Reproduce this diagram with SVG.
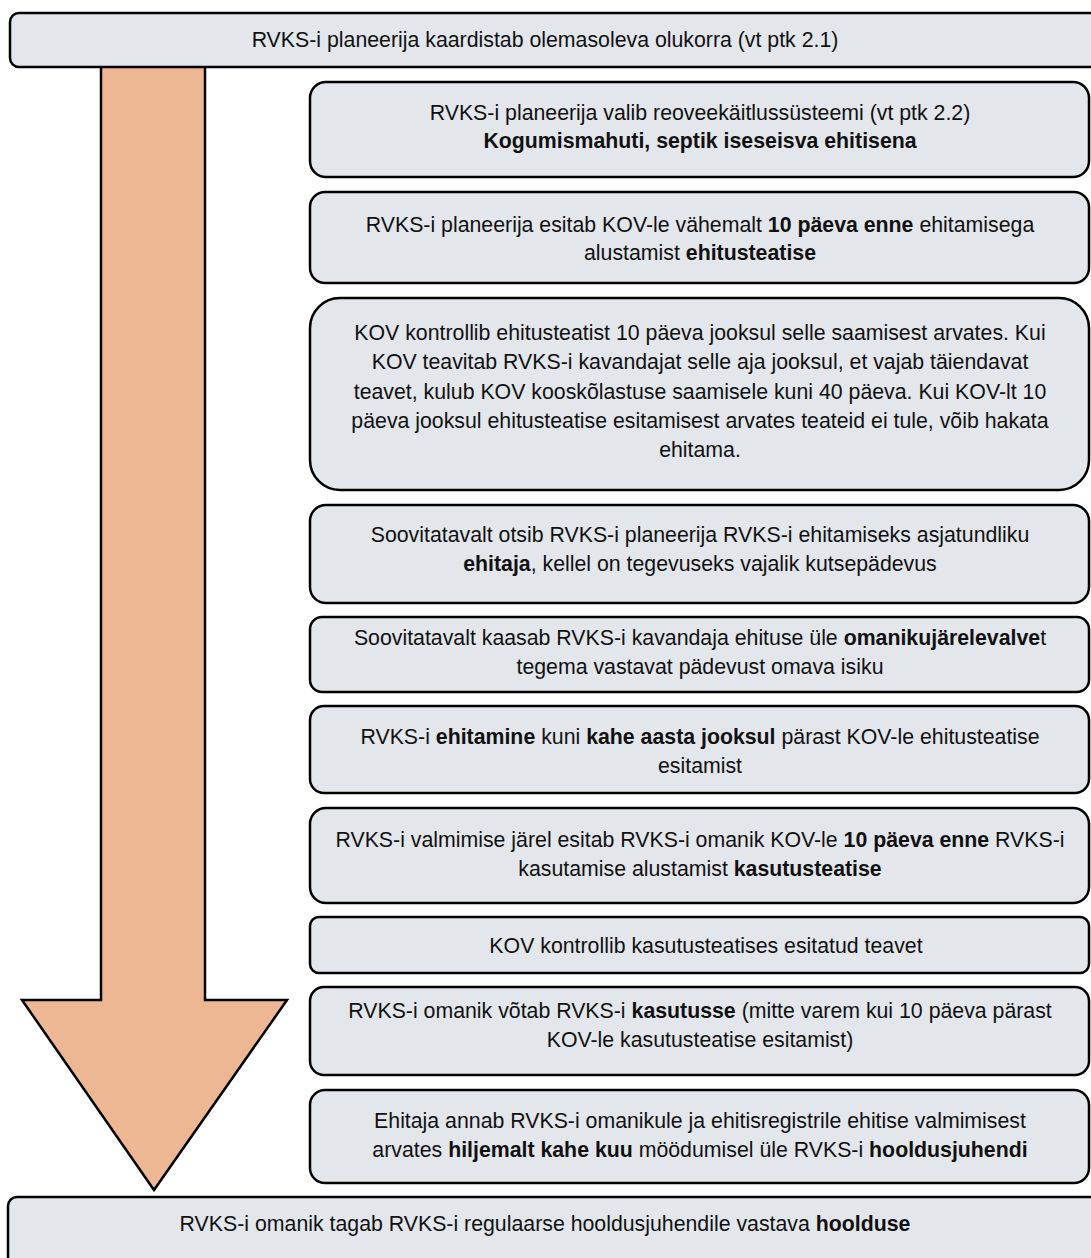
<svg xmlns="http://www.w3.org/2000/svg" width="1091" height="1258" viewBox="0 0 1091 1258">
<style>
.box{fill:#e3e6eb;stroke:#000;stroke-width:2.5}
.t{font-family:"Liberation Sans",Arial,sans-serif;font-size:21.3px;fill:#111;text-anchor:middle}
.b{font-weight:bold}
</style>
<rect width="1091" height="1258" fill="#fff"/>
<g id="connectors">
<polygon points="101,60 205,60 205,1000 287,1000 154,1190 22,1000 101,1000" fill="#edb793" stroke="#000" stroke-width="2.5" stroke-linejoin="miter"/>
</g>
<g id="n0"><rect class="box" x="10" y="13" width="1100" height="54" rx="9"/>
<text class="t" x="545" y="47">RVKS-i planeerija kaardistab olemasoleva olukorra (vt ptk 2.1)</text></g>
<g id="n1"><rect class="box" x="310" y="82" width="779" height="95" rx="16"/>
<text class="t" x="700" y="120">RVKS-i planeerija valib reoveekäitlussüsteemi (vt ptk 2.2)</text>
<text class="t b" x="700" y="148">Kogumismahuti, septik iseseisva ehitisena</text></g>
<g id="n2"><rect class="box" x="310" y="192" width="779" height="91" rx="15"/>
<text class="t" x="700" y="232">RVKS-i planeerija esitab KOV-le vähemalt <tspan class="b">10 päeva enne</tspan> ehitamisega</text>
<text class="t" x="700" y="260">alustamist <tspan class="b">ehitusteatise</tspan></text></g>
<g id="n3"><rect class="box" x="310" y="298" width="779" height="192" rx="30"/>
<text class="t" x="700" y="340">KOV kontrollib ehitusteatist 10 päeva jooksul selle saamisest arvates. Kui</text>
<text class="t" x="700" y="369">KOV teavitab RVKS-i kavandajat selle aja jooksul, et vajab täiendavat</text>
<text class="t" x="700" y="399">teavet, kulub KOV kooskõlastuse saamisele kuni 40 päeva. Kui KOV-lt 10</text>
<text class="t" x="700" y="428">päeva jooksul ehitusteatise esitamisest arvates teateid ei tule, võib hakata</text>
<text class="t" x="700" y="457">ehitama.</text></g>
<g id="n4"><rect class="box" x="310" y="505" width="779" height="98" rx="16"/>
<text class="t" x="700" y="542">Soovitatavalt otsib RVKS-i planeerija RVKS-i ehitamiseks asjatundliku</text>
<text class="t" x="700" y="571"><tspan class="b">ehitaja</tspan>, kellel on tegevuseks vajalik kutsepädevus</text></g>
<g id="n5"><rect class="box" x="310" y="617" width="779" height="75" rx="12"/>
<text class="t" x="700" y="645">Soovitatavalt kaasab RVKS-i kavandaja ehituse üle <tspan class="b">omanikujärelevalve</tspan>t</text>
<text class="t" x="700" y="674">tegema vastavat pädevust omava isiku</text></g>
<g id="n6"><rect class="box" x="310" y="706" width="779" height="87" rx="14"/>
<text class="t" x="700" y="744">RVKS-i <tspan class="b">ehitamine</tspan> kuni <tspan class="b">kahe aasta jooksul</tspan> pärast KOV-le ehitusteatise</text>
<text class="t" x="700" y="773">esitamist</text></g>
<g id="n7"><rect class="box" x="310" y="808" width="779" height="95" rx="16"/>
<text class="t" x="700" y="847">RVKS-i valmimise järel esitab RVKS-i omanik KOV-le <tspan class="b">10 päeva enne</tspan> RVKS-i</text>
<text class="t" x="700" y="876">kasutamise alustamist <tspan class="b">kasutusteatise</tspan></text></g>
<g id="n8"><rect class="box" x="310" y="917" width="779" height="56" rx="9"/>
<text class="t" x="706" y="953">KOV kontrollib kasutusteatises esitatud teavet</text></g>
<g id="n9"><rect class="box" x="310" y="987" width="779" height="88" rx="14"/>
<text class="t" x="700" y="1018">RVKS-i omanik võtab RVKS-i <tspan class="b">kasutusse</tspan> (mitte varem kui 10 päeva pärast</text>
<text class="t" x="700" y="1047">KOV-le kasutusteatise esitamist)</text></g>
<g id="n10"><rect class="box" x="310" y="1090" width="779" height="93" rx="15"/>
<text class="t" x="700" y="1128">Ehitaja annab RVKS-i omanikule ja ehitisregistrile ehitise valmimisest</text>
<text class="t" x="700" y="1157">arvates <tspan class="b">hiljemalt kahe kuu</tspan> möödumisel üle RVKS-i <tspan class="b">hooldusjuhendi</tspan></text></g>
<g id="n11"><rect class="box" x="8" y="1197" width="1100" height="100" rx="9"/>
<text class="t" x="545" y="1231">RVKS-i omanik tagab RVKS-i regulaarse hooldusjuhendile vastava <tspan class="b">hoolduse</tspan></text></g>
</svg>
